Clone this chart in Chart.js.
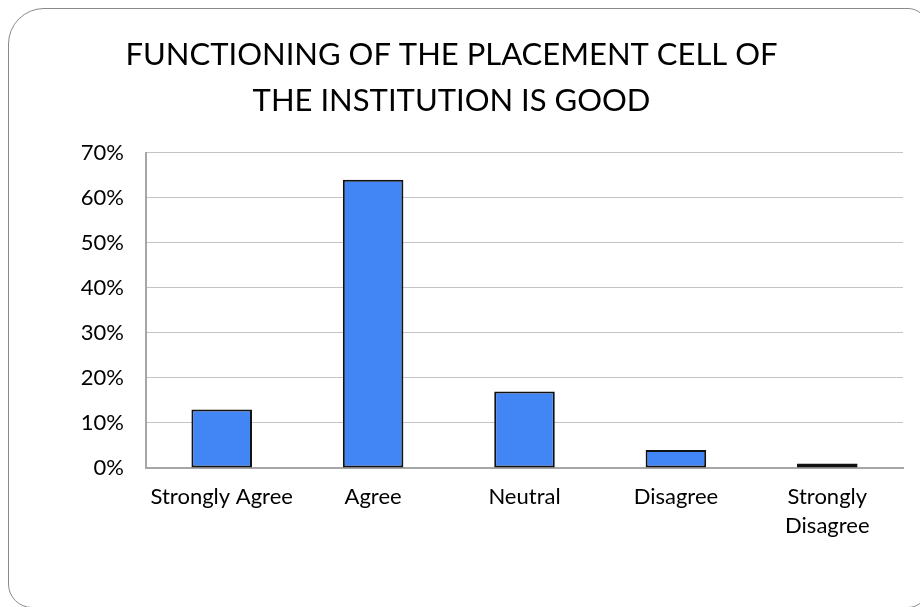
<!DOCTYPE html>
<html>
<head>
<meta charset="utf-8">
<script src="https://cdn.jsdelivr.net/npm/chart.js@4.4.1/dist/chart.umd.min.js"></script>
<style>
  html, body { margin: 0; padding: 0; background: #ffffff; overflow: hidden; }
  #wrap { position: relative; width: 920px; height: 607px; overflow: hidden; background: #fff; }
  #frame { position: absolute; left: 8px; top: 8px; width: 920px; height: 600px;
           border: 1.5px solid #8a8a8a; border-radius: 36px 20px 20px 24px; box-sizing: border-box; }
  #c { position: absolute; left: 0; top: 0; }
</style>
</head>
<body>
<div id="wrap">
  <div id="frame"></div>
  <canvas id="c" width="920" height="607"></canvas>
</div>
<script>
const categories = ['Strongly Agree', 'Agree', 'Neutral', 'Disagree', ['Strongly', 'Disagree']];
const values = [13, 64, 17, 4, 1];
const titleLines = ['FUNCTIONING OF THE PLACEMENT CELL OF', 'THE INSTITUTION IS GOOD'];
const yMin = 0, yMax = 70, yStep = 10;

const FONT = 'Lato, "Open Sans", sans-serif';

new Chart(document.getElementById('c'), {
  type: 'bar',
  data: {
    labels: categories,
    datasets: [{
      data: values,
      backgroundColor: '#4285f4',
      borderColor: '#111111',
      borderWidth: 2,
      borderSkipped: false,
      barPercentage: 0.8,
      categoryPercentage: 0.5
    }]
  },
  options: {
    responsive: false,
    animation: false,
    devicePixelRatio: 1,
    layout: { padding: { left: 0, right: 17, top: 32, bottom: 53 } },
    plugins: {
      legend: { display: false },
      tooltip: { enabled: false },
      title: {
        display: true,
        text: titleLines,
        color: '#000000',
        font: { family: FONT, size: 31, weight: '400', lineHeight: 1.48 },
        padding: { top: 0, bottom: 29 }
      }
    },
    scales: {
      x: {
        grid: { display: false, drawTicks: false },
        border: { display: true, color: '#a6a6a6', width: 2 },
        ticks: {
          color: '#000000',
          font: { family: FONT, size: 22, lineHeight: 1.32 },
          padding: 14,
          maxRotation: 0,
          autoSkip: false
        }
      },
      y: {
        min: yMin, max: yMax,
        afterFit: s => { s.width = 146; },
        grid: { color: '#c4c4c4', lineWidth: 1, drawTicks: false },
        border: { display: true, color: '#a6a6a6', width: 2 },
        ticks: {
          stepSize: yStep,
          color: '#000000',
          font: { family: FONT, size: 22 },
          padding: 22,
          callback: v => v + '%'
        }
      }
    }
  }
});
</script>
</body>
</html>
